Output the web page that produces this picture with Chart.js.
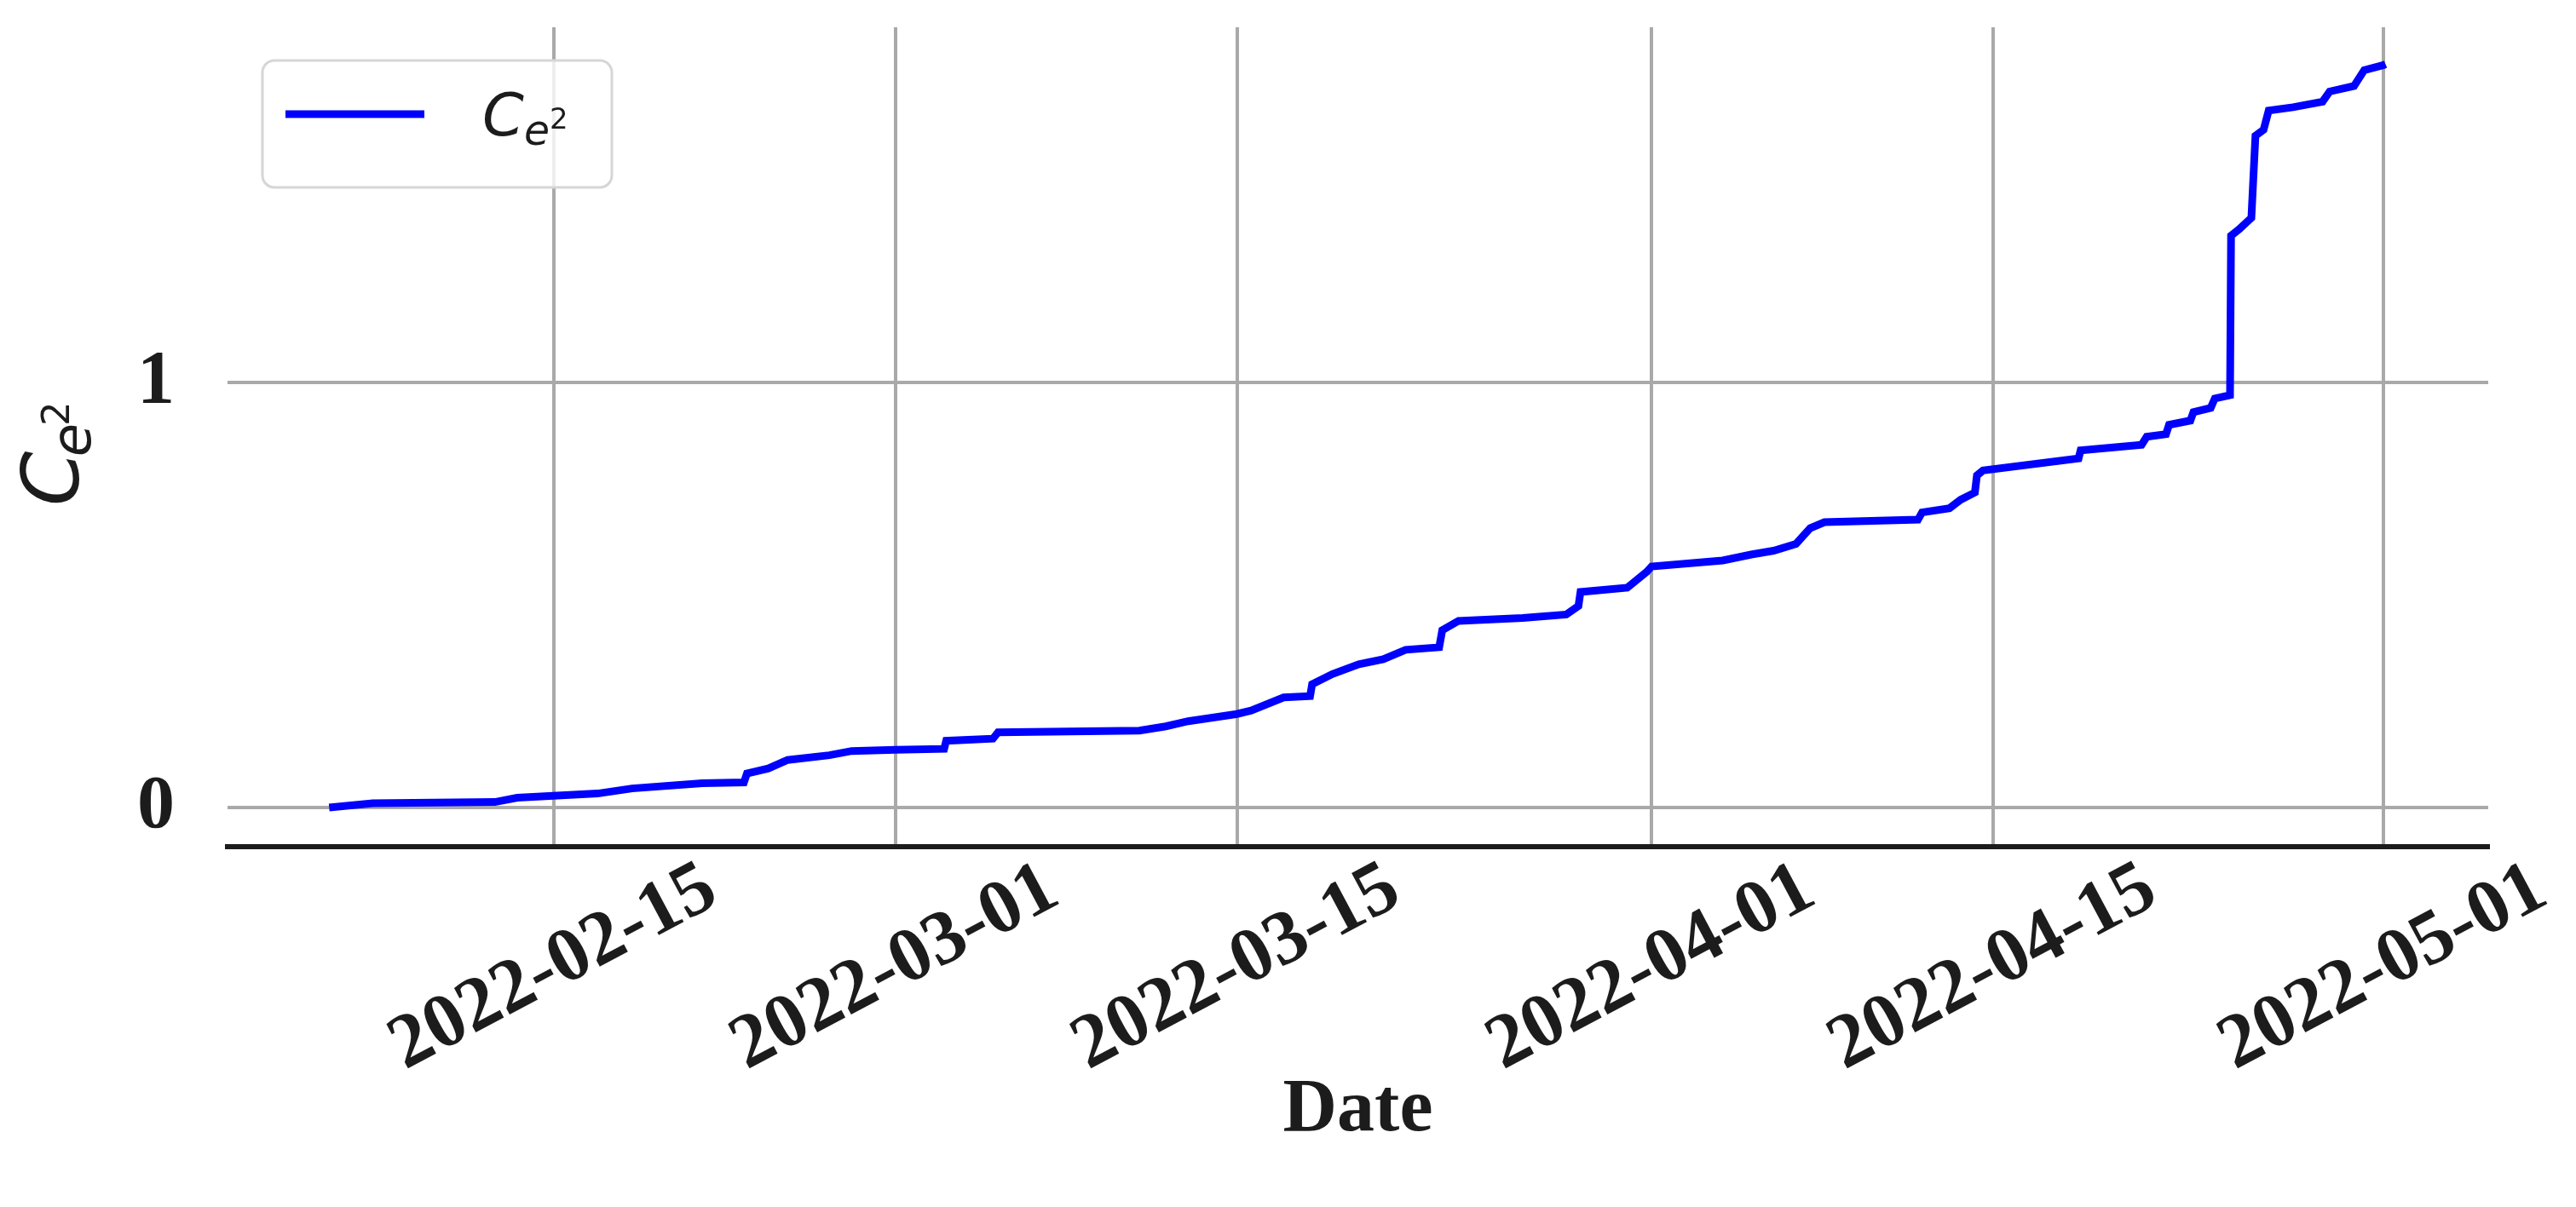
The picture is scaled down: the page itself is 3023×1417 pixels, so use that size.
<!DOCTYPE html>
<html>
<head>
<meta charset="utf-8">
<title>Ce2 over time</title>
<script src="https://cdn.jsdelivr.net/npm/chart.js@4.4.1/dist/chart.umd.min.js"></script>
<style>
  html, body { margin: 0; padding: 0; background: #fff; }
  #wrap { width: 3023px; height: 1417px; position: relative; }
</style>
</head>
<body>
<div id="wrap"><canvas id="myChart"></canvas></div>
<script>
// sample times (UTC) and cumulative values
const dates = [
    '2022-02-05T19:00', '2022-02-07T14:00', '2022-02-12T14:00', '2022-02-13T12:00',
    '2022-02-16T19:00', '2022-02-18T05:00', '2022-02-21T02:00', '2022-02-22T19:00',
    '2022-02-22T22:00', '2022-02-23T19:00', '2022-02-24T14:00', '2022-02-26T07:00',
    '2022-02-27T05:00', '2022-03-01T00:00', '2022-03-03T00:00', '2022-03-03T02:00',
    '2022-03-05T00:00', '2022-03-05T05:00', '2022-03-11T00:00', '2022-03-12T02:00',
    '2022-03-13T00:00', '2022-03-15T00:00', '2022-03-15T14:00', '2022-03-16T22:00',
    '2022-03-18T00:00', '2022-03-18T02:00', '2022-03-18T22:00', '2022-03-20T00:00',
    '2022-03-21T00:00', '2022-03-21T22:00', '2022-03-23T07:00', '2022-03-23T10:00',
    '2022-03-24T02:00', '2022-03-26T17:00', '2022-03-28T12:00', '2022-03-29T00:00',
    '2022-03-29T02:00', '2022-03-31T00:00', '2022-03-31T19:00', '2022-04-01T00:00',
    '2022-04-03T22:00', '2022-04-05T02:00', '2022-04-06T00:00', '2022-04-06T22:00',
    '2022-04-07T12:00', '2022-04-08T02:00', '2022-04-11T22:00', '2022-04-12T02:00',
    '2022-04-13T05:00', '2022-04-13T16:00', '2022-04-14T06:00', '2022-04-14T08:00',
    '2022-04-14T14:00', '2022-04-18T12:00', '2022-04-18T14:00', '2022-04-21T02:00',
    '2022-04-21T07:00', '2022-04-22T02:00', '2022-04-22T05:00', '2022-04-23T02:00',
    '2022-04-23T05:00', '2022-04-23T22:00', '2022-04-24T02:00', '2022-04-24T17:00',
    '2022-04-24T18:00', '2022-04-25T02:00', '2022-04-25T14:00', '2022-04-25T18:00',
    '2022-04-26T02:00', '2022-04-26T07:00', '2022-04-27T07:00', '2022-04-28T12:00',
    '2022-04-28T19:00', '2022-04-29T19:00', '2022-04-30T05:00', '2022-05-01T00:00',
    '2022-05-01T02:00'
];
const values = [
    0.000, 0.010, 0.013, 0.023,
    0.033, 0.045, 0.057, 0.059,
    0.080, 0.092, 0.112, 0.123,
    0.133, 0.136, 0.138, 0.157,
    0.162, 0.177, 0.181, 0.191,
    0.203, 0.220, 0.228, 0.259,
    0.262, 0.290, 0.314, 0.337,
    0.349, 0.371, 0.377, 0.417,
    0.439, 0.446, 0.454, 0.474,
    0.507, 0.517, 0.554, 0.567,
    0.581, 0.595, 0.604, 0.620,
    0.657, 0.671, 0.677, 0.694,
    0.704, 0.724, 0.741, 0.781,
    0.793, 0.821, 0.840, 0.853,
    0.872, 0.878, 0.900, 0.910,
    0.930, 0.940, 0.962, 0.970,
    1.345, 1.360, 1.387, 1.580,
    1.594, 1.639, 1.647, 1.660,
    1.684, 1.697, 1.734, 1.746,
    1.748
];
const tickDates = ['2022-02-15', '2022-03-01', '2022-03-15', '2022-04-01', '2022-04-15', '2022-05-01'];
const tickLabels = ['2022-02-15', '2022-03-01', '2022-03-15', '2022-04-01', '2022-04-15', '2022-05-01'];
const yTicks = [0, 1];
const xRange = ['2022-02-01T15:00', '2022-05-05T07:00'];
const yRange = [-0.092, 1.835];
const seriesName = ['C', 'e', '2'];   // C with subscript e and superscript 2
const xTitle = 'Date';

const gridColor = '#a9a9a9';
const inkColor = '#1c1c1c';
const serifBold = { family: '"Liberation Serif", "Times New Roman", serif', weight: 'bold', size: 88 };

// dates -> days since epoch, so a linear scale can place them
function toDay(s) {
    const iso = s.length === 10 ? s + 'T00:00' : s;
    return Date.parse(iso + 'Z') / 86400000;
}

// draw C_e^2 the way matplotlib mathtext does: base, subscript, superscript
function drawMathName(ctx, x, y, size, kern) {
    ctx.textAlign = 'left';
    ctx.textBaseline = 'alphabetic';
    ctx.font = `italic ${size}px "DejaVu Sans"`;
    ctx.fillText(seriesName[0], x, y);
    let cx = x + ctx.measureText(seriesName[0]).width - kern * size;
    ctx.font = `italic ${Math.round(size * 0.7)}px "DejaVu Sans"`;
    ctx.fillText(seriesName[1], cx, y + size * 0.15);
    cx += ctx.measureText(seriesName[1]).width - kern * size * 0.5;
    ctx.font = `${Math.round(size * 0.49)}px "DejaVu Sans"`;
    ctx.fillText(seriesName[2], cx, y - size * 0.12);
}

const extrasPlugin = {
    id: 'extras',
    afterDraw(chart) {
        const { ctx, chartArea, scales } = chart;
        const ds = chart.data.datasets[0];
        ctx.save();

        // rotated date labels, centred under their ticks
        ctx.fillStyle = inkColor;
        ctx.font = `bold 90px ${serifBold.family}`;
        ctx.textAlign = 'center';
        ctx.textBaseline = 'middle';
        tickDates.forEach((d, i) => {
            ctx.save();
            ctx.translate(scales.x.getPixelForValue(toDay(d)), chartArea.bottom + 143);
            ctx.rotate(-28 * Math.PI / 180);
            ctx.fillText(tickLabels[i], 0, 0);
            ctx.restore();
        });

        // y axis title
        ctx.save();
        ctx.translate(chartArea.left - 175, chartArea.top + 562);
        ctx.rotate(-Math.PI / 2);
        ctx.fillStyle = inkColor;
        drawMathName(ctx, 0, 0, 92, 0.07);
        ctx.restore();

        // legend box in the upper left corner
        const lx = chartArea.left + 41, ly = chartArea.top + 39;
        ctx.beginPath();
        ctx.roundRect(lx, ly, 410, 149, 14);
        ctx.fillStyle = 'rgba(255,255,255,0.8)';
        ctx.fill();
        ctx.lineWidth = 3;
        ctx.strokeStyle = '#d6d6d6';
        ctx.stroke();

        ctx.beginPath();
        ctx.moveTo(lx + 27, ly + 63);
        ctx.lineTo(lx + 190, ly + 63);
        ctx.lineWidth = 9;
        ctx.strokeStyle = ds.borderColor;
        ctx.stroke();

        ctx.fillStyle = inkColor;
        drawMathName(ctx, lx + 258, ly + 88, 70, 0);

        ctx.restore();
    }
};

function init() {
    const points = dates.map((d, i) => ({ x: toDay(d), y: values[i] }));

    new Chart(document.getElementById('myChart'), {
        type: 'line',
        data: {
            datasets: [{
                label: seriesName.join(''),
                data: points,
                borderColor: '#0000ff',
                borderWidth: 9,
                pointRadius: 0,
                tension: 0,
                fill: false
            }]
        },
        options: {
            responsive: true,
            maintainAspectRatio: false,
            devicePixelRatio: 1,
            animation: false,
            layout: { padding: { top: 32, right: 103, left: 0, bottom: 0 } },
            plugins: { legend: { display: false }, tooltip: { enabled: false } },
            scales: {
                x: {
                    type: 'linear',
                    min: toDay(xRange[0]),
                    max: toDay(xRange[1]),
                    afterBuildTicks: s => { s.ticks = tickDates.map(d => ({ value: toDay(d) })); },
                    afterFit: s => { s.height = 423; s.paddingLeft = 0; s.paddingRight = 0; },
                    ticks: { display: false },
                    grid: { color: gridColor, lineWidth: 4, drawTicks: false },
                    border: { display: true, color: inkColor, width: 6 },
                    title: {
                        display: true,
                        text: xTitle,
                        color: inkColor,
                        font: serifBold,
                        padding: { top: 0, bottom: 60 }
                    }
                },
                y: {
                    min: yRange[0],
                    max: yRange[1],
                    afterBuildTicks: s => { s.ticks = yTicks.map(v => ({ value: v })); },
                    afterFit: s => { s.width = 267; s.paddingTop = 0; s.paddingBottom = 0; },
                    ticks: { padding: 62, color: inkColor, font: serifBold, callback: v => String(v) },
                    grid: { color: gridColor, lineWidth: 4, drawTicks: false },
                    border: { display: false }
                }
            }
        },
        plugins: [extrasPlugin]
    });
}

window.onload = init;
</script>
</body>
</html>
